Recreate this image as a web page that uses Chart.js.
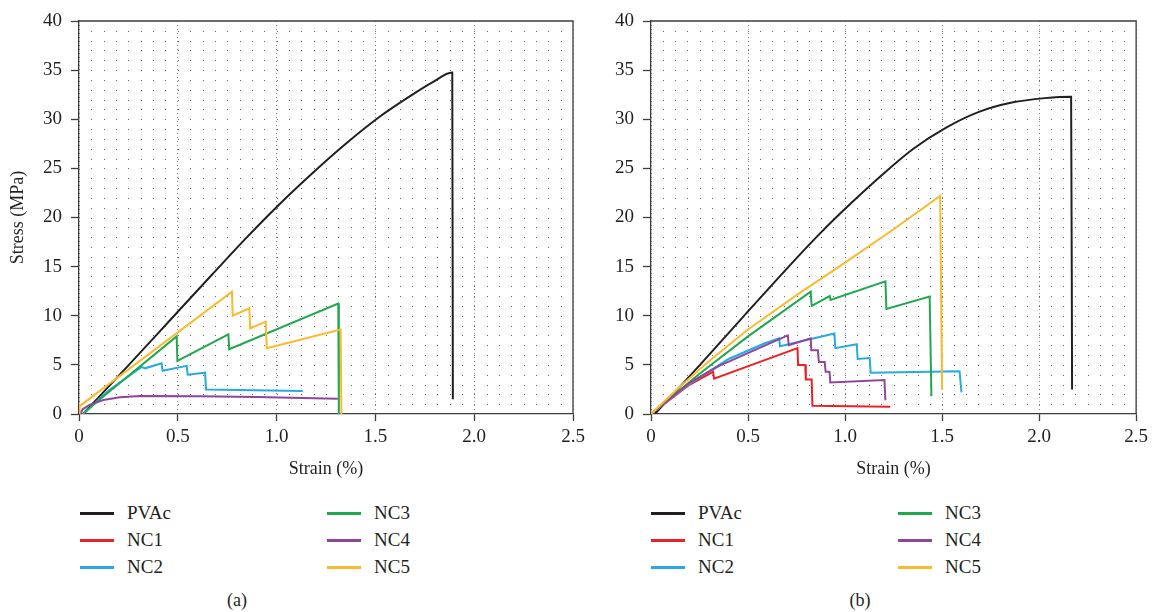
<!DOCTYPE html>
<html>
<head>
<meta charset="utf-8">
<script src="https://cdn.jsdelivr.net/npm/chart.js@4/dist/chart.umd.min.js"></script>
<style>
  body { margin: 0; background: #fff; width: 1153px; height: 612px; position: relative; overflow: hidden;
         font-family: "Liberation Serif", "DejaVu Serif", serif; color: #231f20; }
  canvas { position: absolute; top: 0; }
  .key-line { position: absolute; width: 34px; height: 2.5px; }
  .key-text { position: absolute; font-size: 19px; line-height: 22px; }
  .caption { position: absolute; font-size: 18px; line-height: 22px; transform: translateX(-50%); }
</style>
</head>
<body>
<canvas id="chart-a" width="590" height="490" style="left:0"></canvas>
<canvas id="chart-b" width="577" height="490" style="left:576px"></canvas>
<div id="legend-a"></div>
<div id="legend-b"></div>
<div class="caption" style="left:237px; top:589px">(a)</div>
<div class="caption" style="left:860px; top:589px">(b)</div>

<script>
// series names and colours (legend order)
const seriesNames = ['PVAc', 'NC1', 'NC2', 'NC3', 'NC4', 'NC5'];
const seriesColors = ['#231f20', '#ed2024', '#27a9e1', '#21a84f', '#8d469a', '#fbb92d'];

const xTicks = [0, 0.5, 1, 1.5, 2, 2.5];
const yTicks = [0, 5, 10, 15, 20, 25, 30, 35, 40];

// (a) strain %, stress MPa
const aPVAc = [[0.02, 0], [0.25, 4.95], [0.464, 9.62], [0.675, 14.22], [0.843, 17.85], [1.012, 21.3], [1.181, 24.5],
  [1.35, 27.5], [1.518, 30.2], [1.687, 32.5], [1.788, 33.75], [1.889, 34.75], [1.892, 1.5]];
const aNC1 = [];
const aNC2 = [[0.02, 0], [0.15, 2.4], [0.317, 4.8], [0.334, 4.65], [0.418, 5.15], [0.423, 4.4], [0.545, 4.9],
  [0.55, 4.0], [0.638, 4.2], [0.643, 2.5], [1.132, 2.34]];
const aNC3 = [[0.02, 0], [0.1, 1.4], [0.494, 7.9], [0.498, 5.4], [0.756, 8.1], [0.76, 6.6], [1.312, 11.25], [1.315, 0]];
const aNC4 = [[0.005, 0], [0.02, 0.5], [0.056, 0.95], [0.123, 1.42], [0.207, 1.7], [0.31, 1.83], [0.6, 1.8],
  [0.9, 1.72], [1.31, 1.55]];
const aNC5 = [[0, 0], [0.003, 0.8], [0.774, 12.45], [0.778, 10.0], [0.862, 10.75], [0.866, 8.7], [0.945, 9.4],
  [0.95, 6.7], [1.324, 8.6], [1.328, 0]];

// (b)
const bPVAc = [[0.02, 0], [0.25, 4.95], [0.477, 9.94], [0.705, 14.9], [0.845, 17.85], [0.98, 20.5], [1.183, 24.2],
  [1.352, 27.0], [1.521, 29.15], [1.69, 30.75], [1.86, 31.7], [2.03, 32.15], [2.165, 32.3], [2.17, 2.5]];
const bNC1 = [[0, 0], [0.2, 3.0], [0.32, 4.3], [0.325, 3.6], [0.755, 6.7], [0.758, 5.0], [0.795, 5.0], [0.798, 3.5],
  [0.828, 3.5], [0.832, 0.85], [1.233, 0.75]];
const bNC2 = [[0, 0], [0.2, 3.1], [0.4, 5.6], [0.587, 7.2], [0.66, 7.7], [0.665, 6.9], [0.945, 8.2], [0.95, 6.7],
  [1.06, 7.1], [1.065, 5.6], [1.127, 5.7], [1.132, 4.2], [1.59, 4.35], [1.6, 2.2]];
const bNC3 = [[0, 0], [0.25, 4.1], [0.5, 7.9], [0.823, 12.45], [0.828, 11.0], [0.921, 12.0], [0.925, 11.6],
  [1.208, 13.5], [1.213, 10.7], [1.436, 11.95], [1.445, 1.8]];
const bNC4 = [[0, 0], [0.2, 3.2], [0.351, 4.9], [0.705, 8.0], [0.71, 7.0], [0.823, 7.7], [0.826, 6.5], [0.86, 6.5],
  [0.865, 5.3], [0.895, 5.3], [0.9, 4.3], [0.92, 4.3], [0.924, 3.2], [1.203, 3.46], [1.208, 1.4]];
const bNC5 = [[0, 0], [0.15, 2.8], [0.3, 5.4], [0.5, 8.6], [0.75, 12.1], [1.0, 15.4], [1.25, 18.8], [1.49, 22.2],
  [1.5, 2.5]];

const DOT_STEP_X = 0.0625;
const DOT_STEP_Y = 1;
const AXIS_COLOR = '#3d3d3d';
const FAMILY = '"Liberation Serif", "DejaVu Serif", serif';
const TICK_FONT = { family: FAMILY, size: 19 };
const TITLE_FONT = { family: FAMILY, size: 18 };

const dotGrid = {
  id: 'dotGrid',
  beforeDatasetsDraw(chart) {
    const { ctx, scales: { x, y } } = chart;
    ctx.save();
    ctx.fillStyle = '#6a6a6a';
    for (let i = 1; i * DOT_STEP_X < x.max; i++) {
      const px = Math.round(x.getPixelForValue(i * DOT_STEP_X));
      for (let j = 1; j * DOT_STEP_Y < y.max; j++) {
        const py = Math.round(y.getPixelForValue(j * DOT_STEP_Y));
        ctx.fillRect(px, py, 1, 1);
      }
    }
    ctx.restore();
  }
};

const frame = {
  id: 'frame',
  afterDatasetsDraw(chart) {
    const { ctx, chartArea: a } = chart;
    ctx.save();
    ctx.strokeStyle = AXIS_COLOR;
    ctx.lineWidth = 1.3;
    ctx.beginPath();
    ctx.moveTo(a.left, a.top);
    ctx.lineTo(a.right, a.top);
    ctx.lineTo(a.right, a.bottom);
    ctx.stroke();
    ctx.restore();
  }
};

function makeChart(canvasId, seriesData, yWidth, padRight, showYTitle) {
  const datasets = seriesData.map((pts, i) => ({
    label: seriesNames[i],
    data: pts.map(([x, y]) => ({ x, y })),
    borderColor: seriesColors[i],
    borderWidth: 2,
    showLine: true,
    pointRadius: 0,
    // the PVAc curve is smooth, the others are jagged
    cubicInterpolationMode: i === 0 ? 'monotone' : 'default',
    tension: 0,
    order: 6 - i
  }));

  return new Chart(document.getElementById(canvasId), {
    type: 'scatter',
    data: { datasets },
    options: {
      responsive: false,
      animation: false,
      devicePixelRatio: 1,
      layout: { padding: { top: 21, right: padRight, bottom: 0, left: 0 } },
      plugins: { legend: { display: false }, tooltip: { enabled: false } },
      scales: {
        x: {
          type: 'linear',
          min: xTicks[0],
          max: xTicks[xTicks.length - 1],
          afterBuildTicks: (scale) => { scale.ticks = xTicks.map((value) => ({ value })); },
          afterFit: (scale) => { scale.height = 76; },
          ticks: { color: '#231f20', font: TICK_FONT, padding: 5, maxRotation: 0 },
          grid: { color: '#8c8c8c', lineWidth: 1, tickLength: 7, tickColor: AXIS_COLOR, tickWidth: 1.3, tickBorderDash: [] },
          border: { color: AXIS_COLOR, width: 1.3, dash: [1, 3] },
          title: { display: true, text: 'Strain (%)', color: '#231f20', font: TITLE_FONT, padding: { top: 0, bottom: 10 } }
        },
        y: {
          type: 'linear',
          min: yTicks[0],
          max: yTicks[yTicks.length - 1],
          afterBuildTicks: (scale) => { scale.ticks = yTicks.map((value) => ({ value })); },
          afterFit: (scale) => { scale.width = yWidth; },
          ticks: { color: '#231f20', font: TICK_FONT, padding: 9 },
          grid: { drawOnChartArea: false, tickLength: 8, tickColor: AXIS_COLOR, tickWidth: 1.3 },
          border: { color: AXIS_COLOR, width: 1.3 },
          title: { display: showYTitle, text: 'Stress (MPa)', color: '#231f20', font: TITLE_FONT, padding: { top: 7, bottom: 0 } }
        }
      }
    },
    plugins: [dotGrid, frame]
  });
}

function buildLegend(containerId, chart, left) {
  const box = document.getElementById(containerId);
  chart.data.datasets.forEach((ds, i) => {
    const col = i < 3 ? 0 : 1;
    const row = i % 3;
    const x = left + col * 247;
    const yMid = 513 + row * 27;
    const line = document.createElement('div');
    line.className = 'key-line';
    line.style.left = `${x}px`;
    line.style.top = `${yMid - 1}px`;
    line.style.background = ds.borderColor;
    const text = document.createElement('div');
    text.className = 'key-text';
    text.style.left = `${x + 47}px`;
    text.style.top = `${yMid - 11}px`;
    text.textContent = ds.label;
    box.appendChild(line);
    box.appendChild(text);
  });
}

const chartA = makeChart('chart-a', [aPVAc, aNC1, aNC2, aNC3, aNC4, aNC5], 79, 17, true);
const chartB = makeChart('chart-b', [bPVAc, bNC1, bNC2, bNC3, bNC4, bNC5], 75, 13, false);
buildLegend('legend-a', chartA, 80);
buildLegend('legend-b', chartB, 651);
</script>
</body>
</html>
